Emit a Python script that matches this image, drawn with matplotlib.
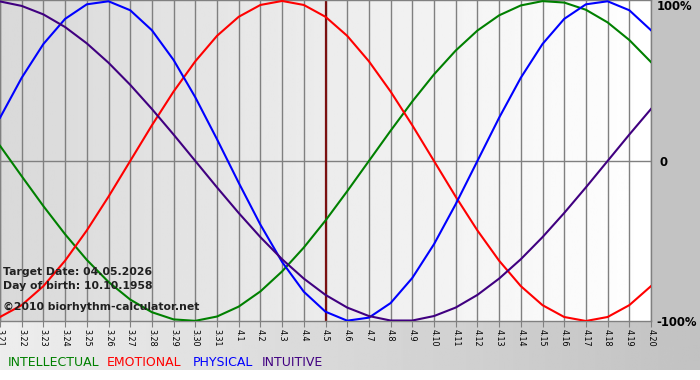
import numpy as np
import matplotlib
matplotlib.use("Agg")
import matplotlib.pyplot as plt
from matplotlib.patches import Rectangle

# dias mostrados en el eje x
days = ['3.21', '3.22', '3.23', '3.24', '3.25', '3.26', '3.27', '3.28', '3.29', '3.30',
        '3.31', '4.1', '4.2', '4.3', '4.4', '4.5', '4.6', '4.7', '4.8', '4.9', '4.10',
        '4.11', '4.12', '4.13', '4.14', '4.15', '4.16', '4.17', '4.18', '4.19', '4.20']

# valores (%)
intellectual = [9.5, -9.5, -28.2, -45.8, -61.8, -75.6, -86.6, -94.5, -99.0, -99.9,
                -97.2, -91.0, -81.5, -69.0, -54.1, -37.2, -18.9, 0.0, 18.9, 37.2,
                54.1, 69.0, 81.5, 91.0, 97.2, 99.9, 99.0, 94.5, 86.6, 75.6, 61.8]
emotional = [-97.5, -90.1, -78.2, -62.3, -43.4, -22.3, 0.0, 22.3, 43.4, 62.3,
             78.2, 90.1, 97.5, 100.0, 97.5, 90.1, 78.2, 62.3, 43.4, 22.3,
             0.0, -22.3, -43.4, -62.3, -78.2, -90.1, -97.5, -100.0, -97.5, -90.1, -78.2]
physical = [27.0, 52.0, 73.1, 88.8, 97.9, 99.8, 94.2, 81.7, 63.1, 39.8,
            13.6, -13.6, -39.8, -63.1, -81.7, -94.2, -99.8, -97.9, -88.8, -73.1,
            -52.0, -27.0, 0.0, 27.0, 52.0, 73.1, 88.8, 97.9, 99.8, 94.2, 81.7]
intuitive = [99.7, 96.9, 91.6, 83.7, 73.5, 61.4, 47.6, 32.5, 16.5, 0.0,
             -16.5, -32.5, -47.6, -61.4, -73.5, -83.7, -91.6, -96.9, -99.7, -99.7,
             -96.9, -91.6, -83.7, -73.5, -61.4, -47.6, -32.5, -16.5, 0.0, 16.5, 32.5]
target_day = '4.5'

W, H = 700, 380
fig = plt.figure(figsize=(7, 3.8), dpi=100)
fig.patch.set_facecolor('white')

# fondo: franja inferior y franja derecha
bg = fig.add_axes([0, 0, 1, 1], zorder=0)
bg.set_xlim(0, W)
bg.set_ylim(H, 0)
bg.axis('off')
bg.imshow(np.linspace(0.93, 0.76, 256)[None, :], cmap='gray', vmin=0, vmax=1,
          extent=(0, W, 370, 321), aspect='auto')
bg.add_patch(Rectangle((651, 0), 49, 321, color='#c3c3c3', lw=0))

x = np.arange(len(days))
ax = fig.add_axes([0, 59 / H, 651 / W, 321 / H], zorder=1)
ax.set_xlim(0, len(days) - 1)
ax.set_ylim(-100, 100.6)
ax.imshow(np.linspace(0.85, 1.0, 256)[None, :], cmap='gray', vmin=0, vmax=1,
          extent=(0, len(days) - 1, -100, 100.6), aspect='auto', zorder=0)

ax.set_xticks(x)
ax.set_xticklabels(days, rotation=-90, fontsize=5.8)
ax.tick_params(axis='x', length=4, color='#808080', pad=2)
ax.set_yticks([])
ax.grid(axis='x', color='#808080', lw=1)
ax.axhline(0, color='#808080', lw=1, zorder=1)
for s in ax.spines.values():
    s.set_color('#808080')
    s.set_linewidth(1)

ax.axvline(days.index(target_day), color='#7a1010', lw=1.6, zorder=2)

ax.plot(x, intellectual, color='#008000', lw=1.5, zorder=3)
ax.plot(x, emotional, color='#ff0000', lw=1.5, zorder=3)
ax.plot(x, physical, color='#0000ff', lw=1.5, zorder=3)
ax.plot(x, intuitive, color='#400080', lw=1.5, zorder=3)

# textos dentro del grafico
info = ['Target Date: 04.05.2026', 'Day of birth: 10.10.1958']
for i, t in enumerate(info):
    fig.text(3 / W, 1 - (272 + 14 * i) / H, t, fontsize=7.8, fontweight='bold',
             color='#202020', va='center', zorder=5)
fig.text(3 / W, 1 - 307 / H, '\u00a92010 biorhythm-calculator.net', fontsize=7.8,
         fontweight='bold', color='#202020', va='center', zorder=5)

# etiquetas de la derecha
fig.text(657 / W, 1 - 7 / H, '100%', fontsize=8.4, fontweight='bold', va='center', zorder=5)
fig.text(659 / W, 1 - 162 / H, '0', fontsize=8.4, fontweight='bold', va='center', zorder=5)
fig.text(656 / W, 1 - 322 / H, '-100%', fontsize=8.4, fontweight='bold', va='center', zorder=5)

# leyenda
legend = [('INTELLECTUAL', '#008000', 8), ('EMOTIONAL', '#ff0000', 107),
          ('PHYSICAL', '#0000ff', 193), ('INTUITIVE', '#400080', 262)]
for name, col, px in legend:
    fig.text(px / W, 1 - 362 / H, name, fontsize=9, color=col, va='center', zorder=5)

fig.savefig('out.png', dpi=100)
